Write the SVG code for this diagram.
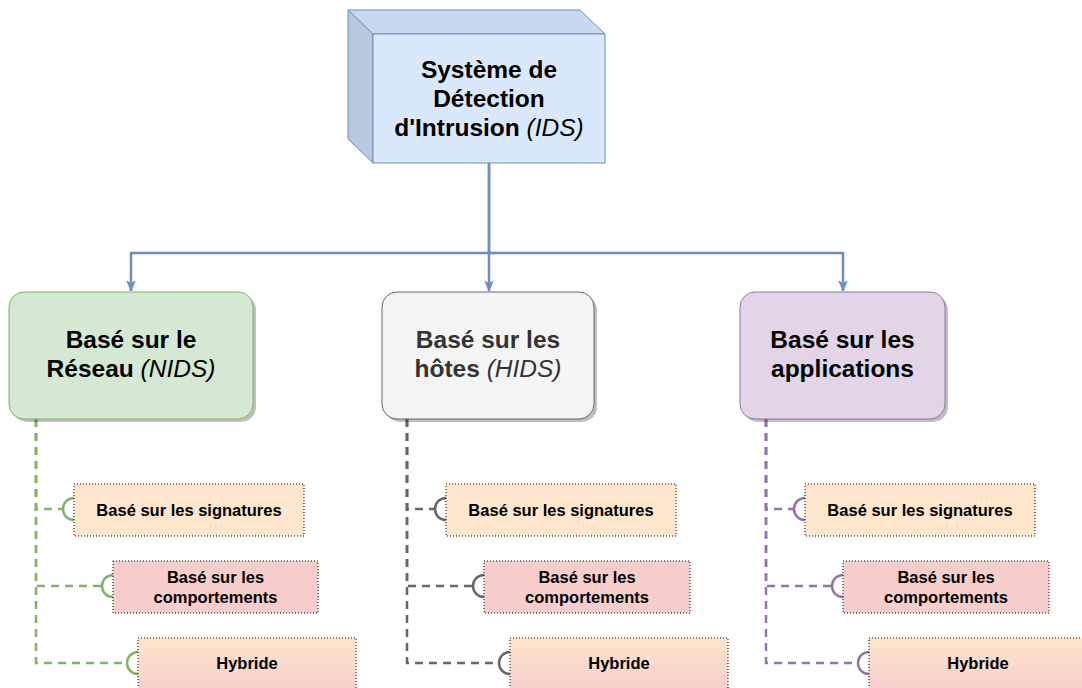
<svg xmlns="http://www.w3.org/2000/svg" width="1082" height="688" viewBox="0 0 1082 688">
<style>
text{font-family:"Liberation Sans",Arial,sans-serif;font-weight:bold;text-anchor:middle}
.t24{font-size:24.5px}
.t16{font-size:16.5px}
.it{font-style:italic;font-weight:normal}
.sub{stroke:#000;stroke-width:1;stroke-dasharray:1 2}
.sig{fill:#ffe6cc}
.comp{fill:#f8cecc}
.hyb{fill:url(#hybGrad)}
.blue{fill:none;stroke:#6c8ebf;stroke-width:2.5}
.dg{fill:none;stroke:#82b366;stroke-width:2.5;stroke-dasharray:8 6}
.dk{fill:none;stroke:#666666;stroke-width:2.5;stroke-dasharray:8 6}
.dp{fill:none;stroke:#9673a6;stroke-width:2.5;stroke-dasharray:8 6}
.hg{fill:none;stroke:#82b366;stroke-width:2.5}
.hk{fill:none;stroke:#666666;stroke-width:2.5}
.hp{fill:none;stroke:#9673a6;stroke-width:2.5}
.shadow{fill:#000;fill-opacity:0.25}
</style>
<defs>
<linearGradient id="hybGrad" x1="0" y1="0" x2="0" y2="1">
<stop offset="0" stop-color="#ffe6cc"/>
<stop offset="1" stop-color="#f8cecc"/>
</linearGradient>
<marker id="arr" markerUnits="userSpaceOnUse" markerWidth="12" markerHeight="10" refX="10" refY="5" orient="auto">
<path d="M0,1 L10,5 L0,9 L3,5 z" fill="#6c8ebf" stroke="#6c8ebf" stroke-width="1"/>
</marker>
</defs>

<g id="connectors">
<path class="blue" d="M489,163 V253 H131 V291" marker-end="url(#arr)"/>
<path class="blue" d="M489,163 V291" marker-end="url(#arr)"/>
<path class="blue" d="M489,253 H843 V291" marker-end="url(#arr)"/>

<path class="dg" d="M36,419 V509 H63"/>
<path class="dg" d="M36,419 V586 H102"/>
<path class="dg" d="M36,419 V663 H127"/>
<path class="hg" d="M74,498 A11,11 0 0 0 74,520"/>
<path class="hg" d="M113,575 A11,11 0 0 0 113,597"/>
<path class="hg" d="M138,652 A11,11 0 0 0 138,674"/>

<path class="dk" d="M407,419 V509 H435"/>
<path class="dk" d="M407,419 V586 H473"/>
<path class="dk" d="M407,419 V663 H499"/>
<path class="hk" d="M446,498 A11,11 0 0 0 446,520"/>
<path class="hk" d="M484,575 A11,11 0 0 0 484,597"/>
<path class="hk" d="M510,652 A11,11 0 0 0 510,674"/>

<path class="dp" d="M766,419 V509 H794"/>
<path class="dp" d="M766,419 V586 H832"/>
<path class="dp" d="M766,419 V663 H858"/>
<path class="hp" d="M805,498 A11,11 0 0 0 805,520"/>
<path class="hp" d="M843,575 A11,11 0 0 0 843,597"/>
<path class="hp" d="M869,652 A11,11 0 0 0 869,674"/>
</g>

<g id="ids">
<polygon points="348,10 580,10 605,34 373,34" fill="#c9d8ef" stroke="#6c8ebf" stroke-width="1"/>
<polygon points="348,10 373,34 373,163 348,139" fill="#b9c8df" stroke="#6c8ebf" stroke-width="1"/>
<rect x="373" y="34" width="232" height="129" fill="#dae8fc" stroke="#6c8ebf" stroke-width="1"/>
<text class="t24" x="489" y="78">Système de</text>
<text class="t24" x="489" y="107">Détection</text>
<text class="t24" x="489" y="136">d'Intrusion <tspan class="it">(IDS)</tspan></text>
</g>

<g id="nids">
<rect class="shadow" x="12" y="295" width="244" height="127" rx="15"/>
<rect x="9" y="292" width="244" height="127" rx="15" fill="#d5e8d4" stroke="#82b366" stroke-width="1"/>
<text class="t24" x="131" y="348">Basé sur le</text>
<text class="t24" x="131" y="377">Réseau <tspan class="it">(NIDS)</tspan></text>
</g>

<g id="hids">
<rect class="shadow" x="385" y="295" width="212" height="127" rx="15"/>
<rect x="382" y="292" width="212" height="127" rx="15" fill="#f5f5f5" stroke="#666666" stroke-width="1"/>
<text class="t24" x="488" y="348" fill="#333333">Basé sur les</text>
<text class="t24" x="488" y="377" fill="#333333">hôtes <tspan class="it">(HIDS)</tspan></text>
</g>

<g id="aids">
<rect class="shadow" x="743" y="295" width="205" height="127" rx="15"/>
<rect x="740" y="292" width="205" height="127" rx="15" fill="#e1d5e7" stroke="#9673a6" stroke-width="1"/>
<text class="t24" x="842.5" y="348">Basé sur les</text>
<text class="t24" x="842.5" y="377">applications</text>
</g>

<g id="nids-sig">
<rect class="sub sig" x="74" y="484" width="230" height="52"/>
<text class="t16" x="189" y="515.5">Basé sur les signatures</text>
</g>
<g id="nids-comp">
<rect class="sub comp" x="113" y="561" width="205" height="52"/>
<text class="t16" x="215.5" y="582.5">Basé sur les</text>
<text class="t16" x="215.5" y="602.5">comportements</text>
</g>
<g id="nids-hyb">
<rect class="sub hyb" x="138" y="638" width="218" height="52"/>
<text class="t16" x="247" y="669">Hybride</text>
</g>

<g id="hids-sig">
<rect class="sub sig" x="446" y="484" width="230" height="52"/>
<text class="t16" x="561" y="515.5">Basé sur les signatures</text>
</g>
<g id="hids-comp">
<rect class="sub comp" x="484" y="561" width="206" height="52"/>
<text class="t16" x="587" y="582.5">Basé sur les</text>
<text class="t16" x="587" y="602.5">comportements</text>
</g>
<g id="hids-hyb">
<rect class="sub hyb" x="510" y="638" width="218" height="52"/>
<text class="t16" x="619" y="669">Hybride</text>
</g>

<g id="aids-sig">
<rect class="sub sig" x="805" y="484" width="230" height="52"/>
<text class="t16" x="920" y="515.5">Basé sur les signatures</text>
</g>
<g id="aids-comp">
<rect class="sub comp" x="843" y="561" width="206" height="52"/>
<text class="t16" x="946" y="582.5">Basé sur les</text>
<text class="t16" x="946" y="602.5">comportements</text>
</g>
<g id="aids-hyb">
<rect class="sub hyb" x="869" y="638" width="218" height="52"/>
<text class="t16" x="978" y="669">Hybride</text>
</g>
</svg>
